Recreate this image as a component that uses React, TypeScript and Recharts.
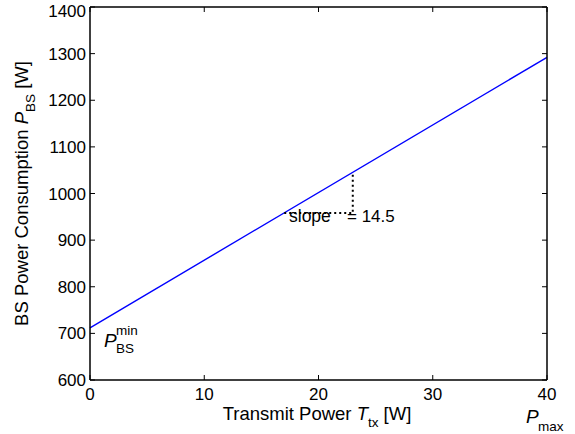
import React from 'react';
import { LineChart, Line, XAxis, YAxis } from 'recharts';

// ---- data ----
const xTicks = [0, 10, 20, 30, 40];
const yTicks = [600, 700, 800, 900, 1000, 1100, 1200, 1300, 1400];
const txPower = [0, 40];
const bsPower = [712, 1292];
const slopeX = [17, 23, 23];
const slopeY = [958, 958, 1045.5];

const lineData = txPower.map((x, i) => ({ x, y: bsPower[i] }));
const triData = slopeX.map((x, i) => ({ x, y: slopeY[i] }));

// ---- style ----
const W = 575;
const H = 434;
const FONT = '"Liberation Sans", Arial, Helvetica, sans-serif';
const TL = 5;
const AX = { stroke: '#000', strokeWidth: 1.5 };

const BottomTick = (p: any) => (
  <g>
    <line x1={p.x} y1={p.y} x2={p.x} y2={p.y - TL} stroke="#000" strokeWidth={1} />
    <text x={p.x} y={p.y + 20} textAnchor="middle" fontSize={17} fontFamily={FONT} fill="#000">
      {p.payload.value}
    </text>
  </g>
);
const TopTick = (p: any) => (
  <line x1={p.x} y1={p.y} x2={p.x} y2={p.y + TL} stroke="#000" strokeWidth={1} />
);
const LeftTick = (p: any) => (
  <g>
    <line x1={p.x} y1={p.y} x2={p.x + TL} y2={p.y} stroke="#000" strokeWidth={1} />
    <text
      x={p.x - 4}
      y={Math.max(p.y + 6, 17)}
      textAnchor="end"
      fontSize={17}
      fontFamily={FONT}
      fill="#000"
    >
      {p.payload.value}
    </text>
  </g>
);
const RightTick = (p: any) => (
  <line x1={p.x} y1={p.y} x2={p.x - TL} y2={p.y} stroke="#000" strokeWidth={1} />
);

export default function App() {
  return (
    <div style={{ position: 'absolute', left: 0, top: 0, width: W, height: H, background: '#fff' }}>
      <LineChart width={W} height={H} margin={{ top: 0, right: 0, bottom: 0, left: 0 }}>
        <XAxis
          dataKey="x"
          type="number"
          domain={[0, 40]}
          ticks={xTicks}
          interval={0}
          height={54}
          tickSize={0}
          tickMargin={0}
          axisLine={AX}
          tickLine={false}
          tick={<BottomTick />}
        />
        <XAxis
          xAxisId="top"
          orientation="top"
          dataKey="x"
          type="number"
          domain={[0, 40]}
          ticks={xTicks}
          interval={0}
          height={7}
          tickSize={0}
          tickMargin={0}
          axisLine={AX}
          tickLine={false}
          tick={<TopTick />}
        />
        <YAxis
          type="number"
          domain={[600, 1400]}
          ticks={yTicks}
          interval={0}
          width={90}
          tickSize={0}
          tickMargin={0}
          axisLine={AX}
          tickLine={false}
          tick={<LeftTick />}
        />
        <YAxis
          yAxisId="right"
          orientation="right"
          type="number"
          domain={[600, 1400]}
          ticks={yTicks}
          interval={0}
          width={28}
          tickSize={0}
          tickMargin={0}
          axisLine={AX}
          tickLine={false}
          tick={<RightTick />}
        />
        <Line
          data={lineData}
          dataKey="y"
          type="linear"
          stroke="#0000ff"
          strokeWidth={1.4}
          dot={false}
          isAnimationActive={false}
        />
        <Line
          data={triData}
          dataKey="y"
          type="linear"
          stroke="#000"
          strokeWidth={2}
          strokeDasharray="2 3"
          dot={false}
          isAnimationActive={false}
        />
        <Line
          xAxisId="top"
          yAxisId="right"
          data={lineData}
          dataKey="y"
          stroke="none"
          dot={false}
          isAnimationActive={false}
        />
      </LineChart>
      <svg
        width={W}
        height={H}
        style={{ position: 'absolute', left: 0, top: 0, pointerEvents: 'none' }}
        fontFamily={FONT}
        fill="#000"
      >
        <text x={317} y={420} textAnchor="middle" fontSize={18.5}>
          Transmit Power <tspan fontStyle="italic">T</tspan>
          <tspan fontSize={13.5} dy={7}>tx</tspan>
          <tspan dy={-7}>{' [W]'}</tspan>
        </text>
        <text transform="translate(27.5,193.5) rotate(-90)" textAnchor="middle" fontSize={18.5}>
          BS Power Consumption <tspan fontStyle="italic">P</tspan>
          <tspan fontSize={13.5} dy={7}>BS</tspan>
          <tspan dy={-7}>{' [W]'}</tspan>
        </text>
        <text x={104} y={347} fontSize={19} fontStyle="italic">P</text>
        <text x={116} y={335} fontSize={13.5}>min</text>
        <text x={116} y={353} fontSize={13.5}>BS</text>
        <text x={526} y={423} fontSize={19} fontStyle="italic">P</text>
        <text x={538} y={431} fontSize={13.5}>max</text>
        <text x={289} y={222} fontSize={17.5}>slope</text>
        <text x={347} y={222} fontSize={17}>= 14.5</text>
      </svg>
    </div>
  );
}
